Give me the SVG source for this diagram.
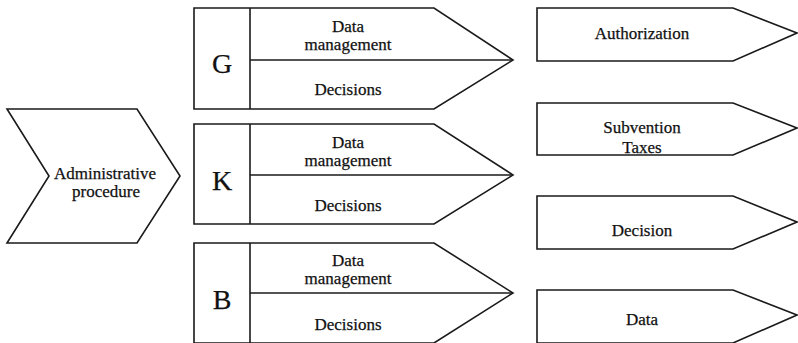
<svg xmlns="http://www.w3.org/2000/svg" width="798" height="343" viewBox="0 0 798 343">
<style>
.s{fill:#fff;stroke:#1a1a1a;stroke-width:1.6;stroke-linejoin:miter}
.l{stroke:#1a1a1a;stroke-width:1.6;fill:none}
text{font-family:"Liberation Serif","Times New Roman",serif;fill:#111;stroke:#111;stroke-width:0.25;text-anchor:middle}
.t{font-size:17px}
.b{font-size:28px}
</style>
<rect width="798" height="343" fill="#fff"/>
<g id="admin">
<polygon class="s" points="7,109 137,109 180,176 137,243 7,243 49,176"/>
<text class="t" x="105" y="179">Administrative</text>
<text class="t" x="106" y="197">procedure</text>
</g>
<g id="G">
<polygon class="s" points="194,8 434,8 513,60 434,109 194,109"/>
<line class="l" x1="250" y1="8" x2="250" y2="109"/>
<line class="l" x1="250" y1="60" x2="513" y2="60"/>
<text class="b" x="222" y="73">G</text>
<text class="t" x="348" y="32">Data</text>
<text class="t" x="348" y="50">management</text>
<text class="t" x="348" y="95">Decisions</text>
</g>
<g id="K">
<polygon class="s" points="194,124 434,124 513,175 434,224 194,224"/>
<line class="l" x1="250" y1="124" x2="250" y2="224"/>
<line class="l" x1="250" y1="175" x2="513" y2="175"/>
<text class="b" x="222" y="190">K</text>
<text class="t" x="348" y="148">Data</text>
<text class="t" x="348" y="166">management</text>
<text class="t" x="348" y="211">Decisions</text>
</g>
<g id="B">
<polygon class="s" points="194,243 434,243 513,293 434,343 194,343"/>
<line class="l" x1="250" y1="243" x2="250" y2="343"/>
<line class="l" x1="250" y1="293" x2="513" y2="293"/>
<text class="b" x="222" y="309">B</text>
<text class="t" x="348" y="266">Data</text>
<text class="t" x="348" y="284">management</text>
<text class="t" x="348" y="330">Decisions</text>
</g>
<g id="authorization">
<polygon class="s" points="537,8 733,8 797,33 733,61 537,61"/>
<text class="t" x="642" y="39">Authorization</text>
</g>
<g id="subvention">
<polygon class="s" points="537,103 733,103 797,128 733,155 537,155"/>
<text class="t" x="642" y="133">Subvention</text>
<text class="t" x="642" y="153">Taxes</text>
</g>
<g id="decision">
<polygon class="s" points="537,196 733,196 797,222 733,249 537,249"/>
<text class="t" x="642" y="236">Decision</text>
</g>
<g id="data">
<polygon class="s" points="537,290 733,290 797,315 733,343 537,343"/>
<text class="t" x="642" y="325">Data</text>
</g>
<g id="connectors"></g>
</svg>
